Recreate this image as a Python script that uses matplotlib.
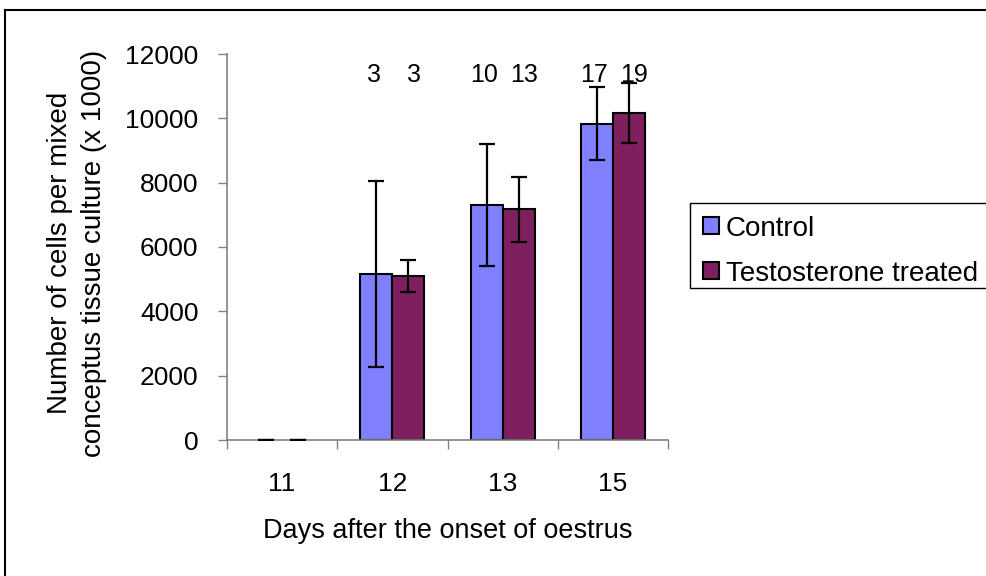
import numpy as np
import matplotlib
matplotlib.use('Agg')
import matplotlib.pyplot as plt
from matplotlib.patches import Patch, Rectangle
from matplotlib.lines import Line2D

plt.rcParams['font.family'] = ['Liberation Sans', 'DejaVu Sans']

# Data
days = ['11', '12', '13', '15']
control = [0, 5160, 7300, 9830]
control_err = [0, 2900, 1900, 1130]
treated = [0, 5100, 7170, 10170]
treated_err = [0, 500, 1000, 930]
n_control = ['', '3', '10', '17']
n_treated = ['', '3', '13', '19']

fig = plt.figure(figsize=(9.86, 5.76), dpi=100)
ax = fig.add_axes([227 / 986, 1 - 440 / 576, 441 / 986, 386 / 576])

x = np.arange(len(days))
w = 0.29
lw_c = [0 if v == 0 else 1.5 for v in control]
lw_t = [0 if v == 0 else 1.5 for v in treated]
ax.bar(x - w / 2, control, w, color='#8080FF', edgecolor='black', linewidth=lw_c, zorder=2)
ax.bar(x + w / 2, treated, w, color='#801F60', edgecolor='black', linewidth=lw_t, zorder=2)
ax.errorbar(x - w / 2, control, yerr=control_err, fmt='none', ecolor='black',
            elinewidth=1.6, capsize=6, capthick=1.6, zorder=3)
ax.errorbar(x + w / 2, treated, yerr=treated_err, fmt='none', ecolor='black',
            elinewidth=1.6, capsize=6, capthick=1.6, zorder=3)

# sample sizes above the bars
for i in range(len(days)):
    ax.annotate(n_control[i], (x[i] - w / 2, 11350), xytext=(-2, 0), textcoords='offset points',
                ha='center', va='center', fontsize=18)
    ax.annotate(n_treated[i], (x[i] + w / 2, 11350), xytext=(4, 0), textcoords='offset points',
                ha='center', va='center', fontsize=18)

ax.set_xlim(-0.5, len(days) - 0.5)
ax.set_ylim(0, 12000)
ax.set_yticks(np.arange(0, 12001, 2000))
ax.set_xticks(x)
ax.set_xticklabels(days)
ax.set_xticks(np.arange(-0.5, len(days), 1), minor=True)
ax.tick_params(axis='x', which='major', length=0, pad=23, labelsize=19)
ax.tick_params(axis='x', which='minor', length=6.5, width=1, color='#808080', direction='out')
ax.tick_params(axis='y', length=6.5, width=1, color='#808080', labelsize=19, pad=14)

for side in ['top', 'right']:
    ax.spines[side].set_visible(False)
for side in ['left', 'bottom']:
    ax.spines[side].set_color('#808080')
    ax.spines[side].set_linewidth(1.2)

ax.set_xlabel('Days after the onset of oestrus', fontsize=19.5)
ax.xaxis.set_label_coords(0.5, (440 - 518) / 386)
ax.set_ylabel('Number of cells per mixed\nconceptus tissue culture (x 1000)', fontsize=20,
              linespacing=1.4)
ax.yaxis.set_label_coords((107 - 227) / 441, (440 - 253) / 386)

# legend with its own frame (box is cut by the right edge of the image)
handles = [Patch(facecolor='#8080FF', edgecolor='black', linewidth=1.5, label='Control'),
           Patch(facecolor='#801F60', edgecolor='black', linewidth=1.5, label='Testosterone treated')]
leg = fig.legend(handles=handles, loc='upper left', bbox_to_anchor=(690 / 986, 1 - 203 / 576),
                 fontsize=20, frameon=False,
                 handlelength=0.58, handleheight=0.58, handletextpad=0.25,
                 borderpad=0.45, labelspacing=0.69, borderaxespad=0)
fig.add_artist(Rectangle((690 / 986, 1 - 288 / 576), 310 / 986, 85 / 576,
                         transform=fig.transFigure, facecolor='none', edgecolor='black',
                         linewidth=1.0))

# outer chart border
fig.add_artist(Line2D([5 / 986, 5 / 986], [0, 1 - 10 / 576], color='black', linewidth=1.5))
fig.add_artist(Line2D([5 / 986, 1], [1 - 10 / 576, 1 - 10 / 576], color='black', linewidth=1.5))

fig.savefig('out.png', dpi=100)
